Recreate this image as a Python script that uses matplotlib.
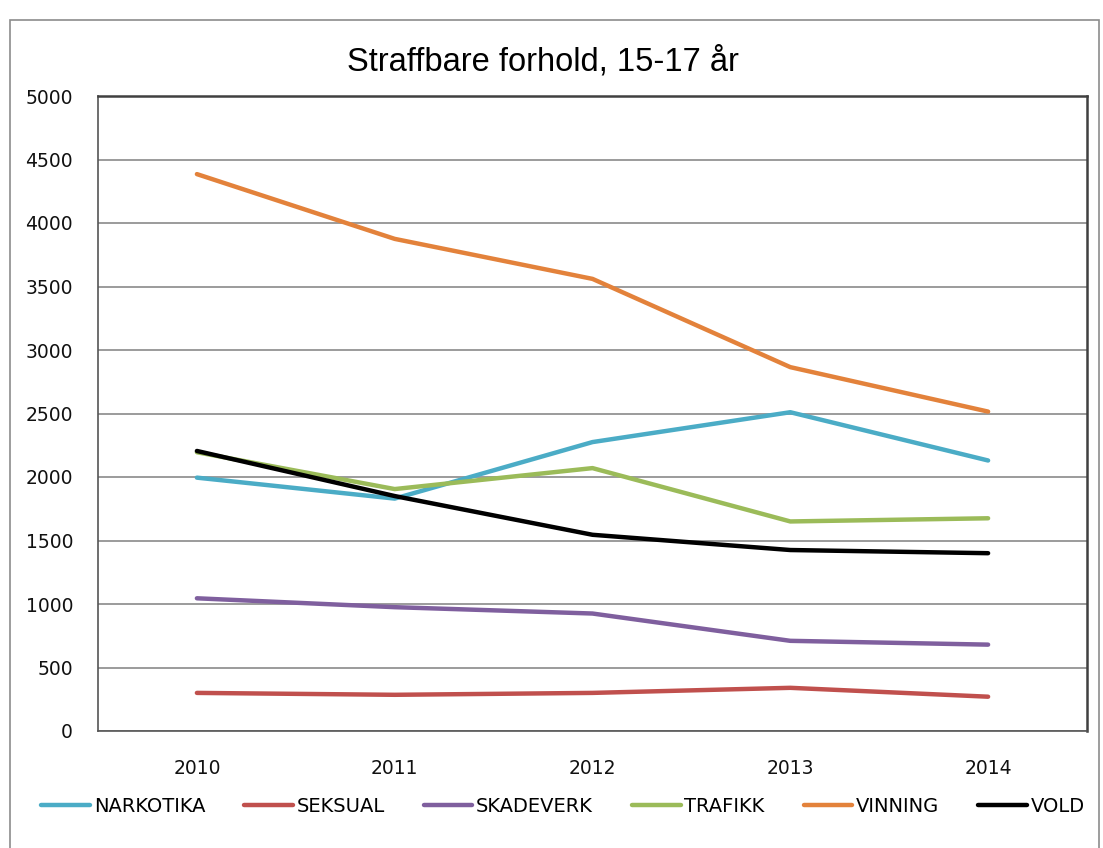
import matplotlib.pyplot as plt
from matplotlib.patches import Rectangle

years = ["2010", "2011", "2012", "2013", "2014"]
narkotika = [1995, 1830, 2275, 2510, 2130]
seksual = [300, 285, 300, 340, 270]
skadeverk = [1045, 975, 925, 710, 680]
trafikk = [2195, 1905, 2070, 1650, 1675]
vinning = [4385, 3875, 3560, 2865, 2515]
vold = [2205, 1850, 1545, 1425, 1400]

series = [
    ("NARKOTIKA", narkotika, "#4BACC6"),
    ("SEKSUAL", seksual, "#C0504D"),
    ("SKADEVERK", skadeverk, "#7F5F9E"),
    ("TRAFIKK", trafikk, "#9BBB59"),
    ("VINNING", vinning, "#E3823B"),
    ("VOLD", vold, "#000000"),
]

plt.rcParams["font.family"] = ["DejaVu Sans"]

fig = plt.figure(figsize=(11.03, 8.48), dpi=100)
fig.patches.append(Rectangle((10 / 1103, -0.01), 1089 / 1103, 1 - 20 / 848 + 0.01,
                             transform=fig.transFigure, fill=False,
                             edgecolor="#8c8c8c", linewidth=1.2))

ax = fig.add_axes([98 / 1103, 1 - 731 / 848, (1087 - 98) / 1103, (731 - 96) / 848])
x = list(range(len(years)))
for name, values, color in series:
    ax.plot(x, values, color=color, linewidth=3.2, label=name,
            solid_capstyle="round", solid_joinstyle="round")

ax.set_xlim(-0.5, len(years) - 0.5)
ax.set_ylim(0, 5000)
ax.set_yticks(range(0, 5001, 500))
ax.set_xticks(x)
ax.set_xticklabels(years)
ax.grid(axis="y", color="#8a8a8a", linewidth=1.2)
ax.set_axisbelow(True)
ax.tick_params(axis="both", length=0, labelsize=13.5, colors="#111111")
ax.tick_params(axis="y", pad=18)
ax.tick_params(axis="x", pad=20)
for side in ["left", "bottom"]:
    ax.spines[side].set_color("#555555")
    ax.spines[side].set_linewidth(1.2)
for side in ["top", "right"]:
    ax.spines[side].set_color("#404040")
    ax.spines[side].set_linewidth(1.8)

fig.text(543 / 1103, 1 - 62 / 848, "Straffbare forhold, 15-17 år",
         ha="center", va="center", fontsize=23.5, fontfamily="Liberation Sans")

fig.legend(loc="center", bbox_to_anchor=(563 / 1103, 1 - 806 / 848), ncol=6,
           frameon=False, fontsize=14, handlelength=2.5, handletextpad=0.2,
           columnspacing=2.0)

fig.savefig("out.png", dpi=100)
